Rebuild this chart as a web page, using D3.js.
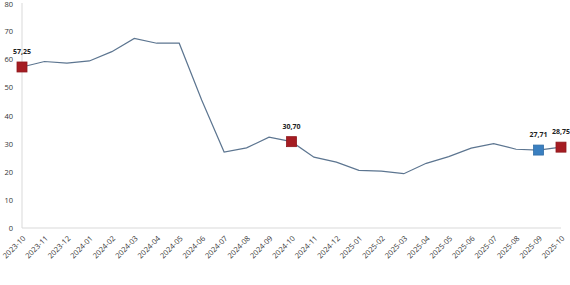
<!DOCTYPE html>
<html>
<head>
<meta charset="utf-8">
<script src="https://cdn.jsdelivr.net/npm/d3@7"></script>
<style>
  body { margin: 0; background: #fff; }
  svg { display: block; font-family: "Open Sans", sans-serif; }
</style>
</head>
<body>
<svg id="chart" width="570" height="285"></svg>
<script>
// monthly values
const months = ["2023-10","2023-11","2023-12","2024-01","2024-02","2024-03","2024-04","2024-05",
  "2024-06","2024-07","2024-08","2024-09","2024-10","2024-11","2024-12","2025-01","2025-02",
  "2025-03","2025-04","2025-05","2025-06","2025-07","2025-08","2025-09","2025-10"];
const values = [57.25,59.2,58.6,59.4,62.7,67.4,65.7,65.7,45.5,27.0,28.5,32.3,30.70,25.2,23.4,
  20.5,20.2,19.3,23.0,25.4,28.4,30.0,28.0,27.71,28.75];
const yTicks = [0,10,20,30,40,50,60,70,80];
// highlighted points: index + colour
const marked = [
  {i: 0, color: "#a51c22"},
  {i: 12, color: "#a51c22"},
  {i: 23, color: "#3a7fc0"},
  {i: 24, color: "#a51c22"}
];

const svg = d3.select("#chart");
const x = d3.scalePoint().domain(months).range([22, 561]);
const y = d3.scaleLinear().domain([0, 80]).range([228, 3]);

// axis lines
svg.append("line").attr("x1", 22).attr("x2", 22).attr("y1", 3).attr("y2", 228)
  .attr("stroke", "#d9d9d9");
svg.append("line").attr("x1", 22).attr("x2", 561).attr("y1", 228).attr("y2", 228)
  .attr("stroke", "#d9d9d9");

svg.selectAll(".ytick").data(yTicks).enter().append("text")
  .attr("x", 13).attr("y", d => Math.max(y(d) + 3, 7))
  .attr("text-anchor", "end").attr("font-size", 7.5).attr("fill", "#333")
  .text(d => d);

// x labels
svg.selectAll(".xtick").data(months).enter().append("text")
  .attr("transform", d => `translate(${x(d) + 4},${239}) rotate(-45)`)
  .attr("text-anchor", "end").attr("font-size", 7.5).attr("fill", "#333")
  .text(d => d);

// line
const line = d3.line().x((d, i) => x(months[i])).y(d => y(d));
svg.append("path").datum(values).attr("d", line)
  .attr("fill", "none").attr("stroke", "#5c7590").attr("stroke-width", 1.2);

// markers
svg.selectAll(".mk").data(marked).enter().append("rect")
  .attr("x", d => x(months[d.i]) - 5).attr("y", d => y(values[d.i]) - 5)
  .attr("width", 10).attr("height", 10)
  .attr("fill", d => d.color).attr("stroke", d => d3.color(d.color).darker(0.4)).attr("stroke-width", 0.8);

svg.selectAll(".lbl").data(marked).enter().append("text")
  .attr("x", d => x(months[d.i])).attr("y", d => y(values[d.i]) - 13)
  .attr("text-anchor", "middle").attr("font-size", 7).attr("font-weight", "bold").attr("fill", "#222")
  .text(d => values[d.i].toFixed(2).replace(".", ","));
</script>
</body>
</html>
